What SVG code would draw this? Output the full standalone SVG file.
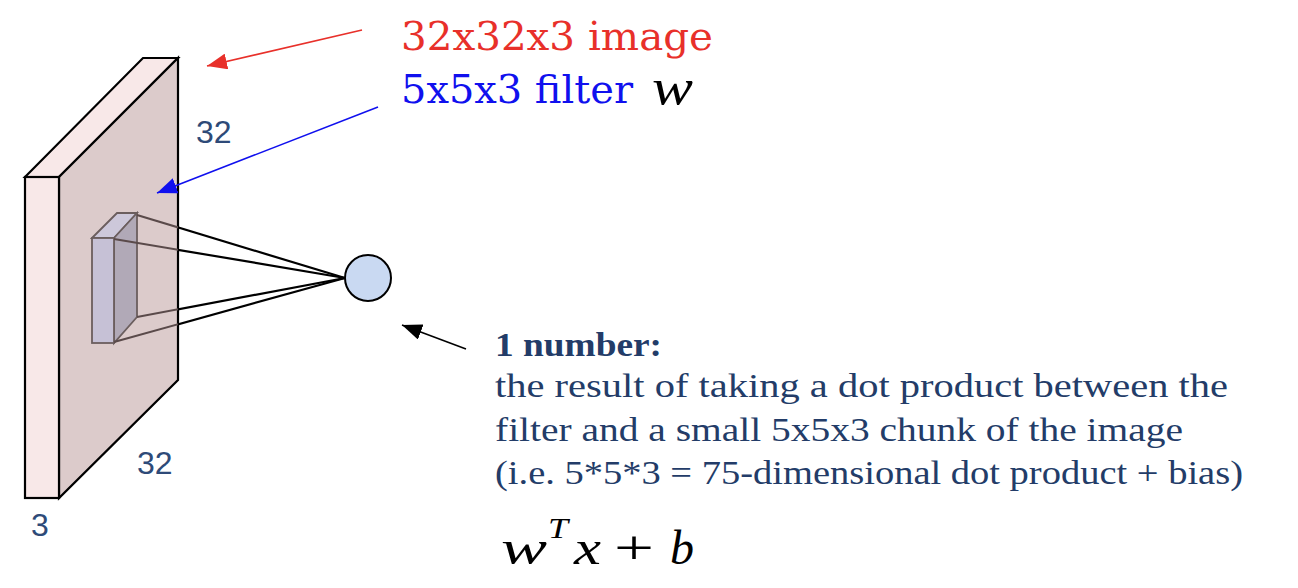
<svg xmlns="http://www.w3.org/2000/svg" width="1298" height="588" viewBox="0 0 1298 588">
<style>
.slab{stroke:#000;stroke-width:2.2;stroke-linejoin:miter}
.flt{stroke:#6b5e5e;stroke-width:1.8}
.dim{font-family:"Liberation Sans",Arial,sans-serif;font-size:32px;fill:#2e4a78}
.body{font-family:"Liberation Serif","Times New Roman",serif;font-size:33px;fill:#233c68}
.title{font-family:"DejaVu Serif","Liberation Serif",serif;font-size:40px}
.math{font-family:"Liberation Serif","Times New Roman",serif;font-style:italic;fill:#000}
</style>
<defs>
<marker id="ahR" markerWidth="22" markerHeight="16" refX="20" refY="8" orient="auto" markerUnits="userSpaceOnUse"><path d="M0,0 L20,8 L0,16 Z" fill="#e8302a"/></marker>
<marker id="ahB" markerWidth="22" markerHeight="16" refX="20" refY="8" orient="auto" markerUnits="userSpaceOnUse"><path d="M0,0 L20,8 L0,16 Z" fill="#1010ee"/></marker>
<marker id="ahK" markerWidth="22" markerHeight="16" refX="20" refY="8" orient="auto" markerUnits="userSpaceOnUse"><path d="M0,0 L20,8 L0,16 Z" fill="#000"/></marker>
<clipPath id="inSlab"><polygon points="59,177 178,58 178,380 59,498"/></clipPath>
<clipPath id="outSlab"><rect x="178" y="0" width="400" height="588"/></clipPath>
</defs>
<rect width="1298" height="588" fill="#fff"/>
<g id="image-volume">
<polygon class="slab" points="25,177 143,58 178,58 59,177" fill="#f8e8e8"/>
<polygon class="slab" points="59,177 178,58 178,380 59,498" fill="#dccbcb"/>
<rect class="slab" x="25" y="177" width="34" height="321" fill="#f8e8e8"/>
</g>
<g id="filter">
<polygon class="flt" points="92,238 117,213 137,213 114,238" fill="#cdc8da"/>
<polygon class="flt" points="114,238 137,213 137,317 114,343" fill="#b1a9b7"/>
<rect class="flt" x="92" y="238" width="22" height="105" fill="#c6c1d6"/>
</g>
<g id="connectors">
<g stroke="#5a4a4a" stroke-width="2" clip-path="url(#inSlab)">
<line x1="137" y1="215" x2="345" y2="278"/>
<line x1="114" y1="239" x2="345" y2="278"/>
<line x1="137" y1="317" x2="345" y2="278"/>
<line x1="114" y1="342" x2="345" y2="278"/>
</g>
<g stroke="#000" stroke-width="2.2" clip-path="url(#outSlab)">
<line x1="137" y1="215" x2="345" y2="278"/>
<line x1="114" y1="239" x2="345" y2="278"/>
<line x1="137" y1="317" x2="345" y2="278"/>
<line x1="114" y1="342" x2="345" y2="278"/>
</g>
<line x1="362" y1="30" x2="207" y2="66" stroke="#e8302a" stroke-width="1.6" marker-end="url(#ahR)"/>
<line x1="378" y1="107" x2="157" y2="193" stroke="#1010ee" stroke-width="1.6" marker-end="url(#ahB)"/>
<line x1="466" y1="349" x2="402" y2="325" stroke="#000" stroke-width="1.6" marker-end="url(#ahK)"/>
</g>
<g id="neuron">
<circle cx="368" cy="278" r="23" fill="#c9d9f2" stroke="#000" stroke-width="2"/>
</g>
<g id="labels">
<text class="dim" x="196" y="143">32</text>
<text class="dim" x="137" y="474">32</text>
<text class="dim" x="31" y="536">3</text>
<text class="title" x="401" y="50" fill="#e8302a" textLength="312" lengthAdjust="spacingAndGlyphs">32x32x3 image</text>
<text class="title" x="401" y="103" fill="#1010ee" textLength="232" lengthAdjust="spacingAndGlyphs">5x5x3 filter</text>
<text class="math" x="652" y="104" font-size="50" textLength="41" lengthAdjust="spacingAndGlyphs">w</text>
<text class="body" x="495" y="356" font-weight="bold" textLength="167" lengthAdjust="spacingAndGlyphs">1 number:</text>
<text class="body" x="495" y="397" textLength="733" lengthAdjust="spacingAndGlyphs">the result of taking a dot product between the</text>
<text class="body" x="495" y="441" textLength="688" lengthAdjust="spacingAndGlyphs">filter and a small 5x5x3 chunk of the image</text>
<text class="body" x="495" y="484" textLength="748" lengthAdjust="spacingAndGlyphs">(i.e. 5*5*3 = 75-dimensional dot product + bias)</text>
<text class="math" x="501" y="564" font-size="48" textLength="46" lengthAdjust="spacingAndGlyphs">w</text>
<text class="math" x="548" y="538" font-size="30" textLength="20" lengthAdjust="spacingAndGlyphs">T</text>
<text class="math" x="574" y="564" font-size="48" textLength="27" lengthAdjust="spacingAndGlyphs">x</text>
<text x="614" y="564" font-family="Liberation Serif,serif" font-size="48" fill="#000" textLength="40" lengthAdjust="spacingAndGlyphs">+</text>
<text class="math" x="670" y="564" font-size="48" textLength="24" lengthAdjust="spacingAndGlyphs">b</text>
</g>
</svg>
